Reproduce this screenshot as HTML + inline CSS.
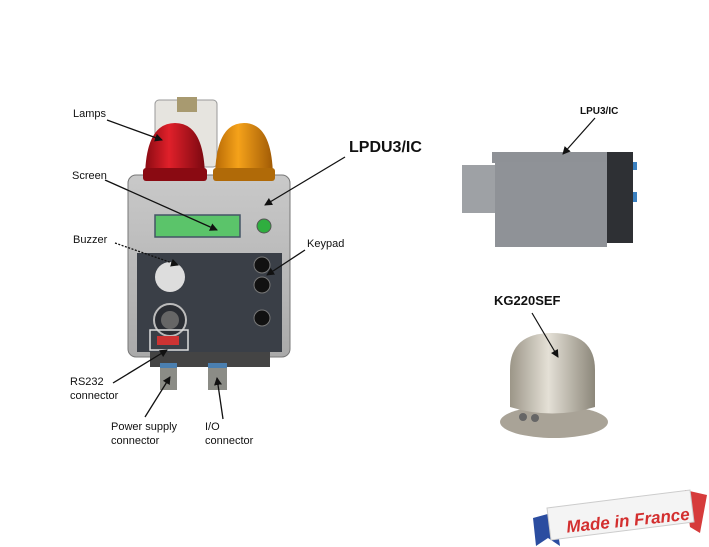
<!DOCTYPE html>
<html><head><meta charset="utf-8"><style>
html,body{margin:0;padding:0;background:#fff;}
svg{display:block;font-family:"Liberation Sans",Arial,sans-serif;}
</style></head><body>
<svg width="709" height="547" viewBox="0 0 709 547" xmlns="http://www.w3.org/2000/svg">
<defs>
<marker id="ah" markerWidth="8" markerHeight="8" refX="7" refY="4" orient="auto" markerUnits="userSpaceOnUse">
<path d="M0,0 L8,4 L0,8 Z" fill="#111"/></marker>
<linearGradient id="red" x1="0" x2="1"><stop offset="0" stop-color="#8a0a12"/><stop offset=".4" stop-color="#e0202a"/><stop offset="1" stop-color="#7a0810"/></linearGradient>
<linearGradient id="amb" x1="0" x2="1"><stop offset="0" stop-color="#b86a05"/><stop offset=".4" stop-color="#f5a21a"/><stop offset="1" stop-color="#a05a05"/></linearGradient>
<linearGradient id="dome" x1="0" x2="1"><stop offset="0" stop-color="#9c9688"/><stop offset=".45" stop-color="#e4e0d6"/><stop offset="1" stop-color="#8c877a"/></linearGradient>
<linearGradient id="box" x1="0" x2="0" y1="0" y2="1"><stop offset="0" stop-color="#c9c9c9"/><stop offset="1" stop-color="#aaa"/></linearGradient>
</defs>

<!-- LPDU device -->
<rect x="155" y="100" width="62" height="67" rx="4" fill="#e6e4df" stroke="#999"/>
<rect x="177" y="97" width="20" height="15" fill="#a89a70"/>
<rect x="128" y="175" width="162" height="182" rx="8" fill="url(#box)" stroke="#777"/>
<path d="M145,180 Q145,123 175,123 Q205,123 205,180 Z" fill="url(#red)"/>
<rect x="143" y="168" width="64" height="13" rx="3" fill="#8a0a12"/>
<path d="M215,180 Q215,123 244,123 Q273,123 273,180 Z" fill="url(#amb)"/>
<rect x="213" y="168" width="62" height="13" rx="3" fill="#b06a08"/>
<rect x="155" y="215" width="85" height="22" fill="#5bc46a" stroke="#456" stroke-width="1.5"/>
<circle cx="264" cy="226" r="7" fill="#2fae3f" stroke="#555"/>
<rect x="137" y="253" width="145" height="99" fill="#3a3f47"/>
<circle cx="170" cy="277" r="15" fill="#ddd"/>
<circle cx="170" cy="320" r="16" fill="#2a2d33" stroke="#bbb" stroke-width="2"/>
<circle cx="170" cy="320" r="9" fill="#666"/>
<rect x="150" y="330" width="38" height="20" fill="none" stroke="#ddd" stroke-width="1.5"/>
<rect x="157" y="336" width="22" height="9" fill="#c33"/>
<circle cx="262" cy="265" r="8" fill="#111" stroke="#777"/>
<circle cx="262" cy="285" r="8" fill="#111" stroke="#777"/>
<circle cx="262" cy="318" r="8" fill="#111" stroke="#777"/>
<rect x="150" y="352" width="120" height="15" fill="#444"/>
<rect x="160" y="363" width="17" height="27" fill="#8b8c86"/>
<rect x="160" y="363" width="17" height="5" fill="#4a7fb0"/>
<rect x="208" y="363" width="19" height="27" fill="#8b8c86"/>
<rect x="208" y="363" width="19" height="5" fill="#4a7fb0"/>

<g font-size="11" fill="#111">
<text x="73" y="117">Lamps</text>
<text x="72" y="179">Screen</text>
<text x="73" y="243">Buzzer</text>
<text x="307" y="247">Keypad</text>
<text x="70" y="385">RS232</text>
<text x="70" y="399">connector</text>
<text x="111" y="430">Power supply</text>
<text x="111" y="444">connector</text>
<text x="205" y="430">I/O</text>
<text x="205" y="444">connector</text>
</g>
<text x="349" y="152" font-size="16" font-weight="bold" fill="#111">LPDU3/IC</text>
<g stroke="#111" stroke-width="1.3" marker-end="url(#ah)">
<line x1="107" y1="120" x2="162" y2="140"/>
<line x1="105" y1="180" x2="217" y2="230"/>
<line x1="115" y1="243" x2="178" y2="265" stroke-dasharray="2,1.5"/>
<line x1="305" y1="250" x2="267" y2="275"/>
<line x1="345" y1="157" x2="265" y2="205"/>
<line x1="113" y1="383" x2="167" y2="350"/>
<line x1="145" y1="417" x2="170" y2="377"/>
<line x1="223" y1="419" x2="217" y2="378"/>
</g>

<!-- LPU3/IC -->
<rect x="462" y="165" width="35" height="48" fill="#9ea1a5"/>
<rect x="492" y="152" width="117" height="11" fill="#8e9196"/>
<rect x="495" y="162" width="112" height="85" fill="#8f9297"/>
<rect x="607" y="152" width="26" height="91" fill="#2e3034"/>
<rect x="633" y="162" width="4" height="8" fill="#3a80c0"/>
<rect x="633" y="192" width="4" height="10" fill="#3a80c0"/>
<text x="580" y="114" font-size="10" font-weight="bold" fill="#111">LPU3/IC</text>
<line x1="595" y1="118" x2="563" y2="154" stroke="#111" stroke-width="1.2" marker-end="url(#ah)"/>

<!-- KG220SEF -->
<ellipse cx="554" cy="422" rx="54" ry="16" fill="#a9a397"/>
<path d="M510,407 L510,370 Q510,333 552,333 Q595,333 595,370 L595,407 Q552,420 510,407 Z" fill="url(#dome)"/>
<circle cx="523" cy="417" r="4" fill="#666"/><circle cx="535" cy="418" r="4" fill="#666"/>
<text x="494" y="305" font-size="13" font-weight="bold" fill="#111">KG220SEF</text>
<line x1="532" y1="313" x2="558" y2="357" stroke="#111" stroke-width="1.2" marker-end="url(#ah)"/>

<!-- Made in France -->
<path d="M533,518 L555,512 L560,546 L548,538 L536,546 Z" fill="#2b4da0"/>
<path d="M685,490 L707,495 L700,533 L690,527 Z" fill="#d63b3b"/>
<path d="M547,508 L690,490 L694,522 L551,540 Z" fill="#f4f4f4" stroke="#ccc"/>
<text x="566" y="527" font-size="17" font-weight="bold" font-style="italic" fill="#d32f2f" transform="rotate(-6 620 520)">Made in France</text>
</svg>
</body></html>
